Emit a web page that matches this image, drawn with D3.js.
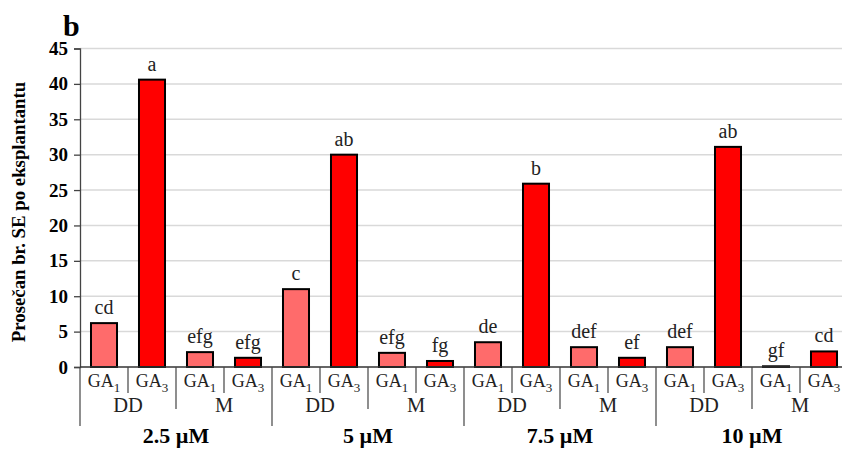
<!DOCTYPE html>
<html><head><meta charset="utf-8">
<script src="https://cdn.jsdelivr.net/npm/d3@7/dist/d3.min.js"></script>
<style>body{margin:0;background:#fff;} svg{display:block;}</style>
</head><body>
<script>
const concentrations = ["2.5 µM", "5 µM", "7.5 µM", "10 µM"];
const media = ["DD", "M"];
const hormones = ["GA1", "GA3"];
// values in order: conc > medium > hormone
const values = [6.2, 40.6, 2.1, 1.3, 11.0, 30.0, 2.0, 0.85, 3.5, 25.9, 2.8, 1.3, 2.8, 31.1, 0.1, 2.2];
const letters = ["cd", "a", "efg", "efg", "c", "ab", "efg", "fg", "de", "b", "def", "ef", "def", "ab", "gf", "cd"];
const yTicks = [0, 5, 10, 15, 20, 25, 30, 35, 40, 45];
const yTitle = "Prosečan br. SE po eksplantantu";
const panelLabel = "b";

const data = [];
concentrations.forEach((c, ci) => media.forEach((m, mi) => hormones.forEach((h, hi) => {
  const i = data.length;
  data.push({i, c, m, h, v: values[i], l: letters[i]});
})));

const W = 842, H = 452;
const x0 = 80, step = 48, y0 = 367, yTop = 48.5;
const svg = d3.select("body").append("svg").attr("width", W).attr("height", H);
const serif = "'Liberation Serif', 'Times New Roman', serif";

const x = d3.scaleBand().domain(data.map(d => d.i)).range([x0, x0 + step * data.length])
  .paddingInner(0.458).paddingOuter(0.229);
const y = d3.scaleLinear().domain([0, 45]).range([y0, yTop]);

// gridlines
svg.append("g").selectAll("line").data(yTicks.filter(t => t > 0)).join("line")
  .attr("x1", x0).attr("x2", W).attr("y1", d => y(d)).attr("y2", d => y(d))
  .attr("stroke", "#d9d9d9").attr("stroke-width", 1.5);

// y axis
const yAxis = svg.append("g").attr("transform", `translate(${x0},0)`)
  .call(d3.axisLeft(y).tickValues(yTicks).tickSize(6).tickPadding(6));
yAxis.select(".domain").attr("stroke", "#444").attr("stroke-width", 1.3);
yAxis.selectAll(".tick line").attr("stroke", "#444").attr("stroke-width", 1.3);
yAxis.selectAll("text").attr("font-family", serif).attr("font-weight", "bold")
  .attr("font-size", 19).attr("fill", "#000");

// bars
svg.append("g").selectAll("rect").data(data).join("rect")
  .attr("x", d => x(d.i)).attr("width", x.bandwidth())
  .attr("y", d => y(d.v)).attr("height", d => y0 - y(d.v))
  .attr("fill", d => d.h === "GA1" ? "#ff6b6b" : "#ff0000")
  .attr("stroke", "#000").attr("stroke-width", 2);

// letters
svg.append("g").selectAll("text").data(data).join("text")
  .attr("x", d => x(d.i) + x.bandwidth() / 2).attr("y", d => y(d.v) - 9)
  .attr("text-anchor", "middle").attr("font-family", serif).attr("font-size", 20)
  .attr("fill", "#222").text(d => d.l);

// baseline
svg.append("line").attr("x1", x0).attr("x2", W).attr("y1", y0).attr("y2", y0)
  .attr("stroke", "#333").attr("stroke-width", 1.3);

// multi-level x axis
const ax = svg.append("g");
const sep = (xx, y2) => ax.append("line").attr("x1", xx).attr("x2", xx).attr("y1", y0).attr("y2", y2)
  .attr("stroke", "#444").attr("stroke-width", 1.2);
data.forEach(d => {
  const left = x0 + d.i * step;
  if (d.i % 4 === 0) sep(left, 426);
  else if (d.i % 2 === 0) sep(left, 409);
  else sep(left, 393);
  const t = ax.append("text").attr("x", left + step / 2).attr("y", 387)
    .attr("text-anchor", "middle").attr("font-family", serif).attr("font-size", 18).attr("fill", "#222");
  t.append("tspan").text("GA");
  t.append("tspan").attr("dy", 5).attr("font-size", 13).text(d.h.slice(2));
});
concentrations.forEach((c, ci) => {
  media.forEach((m, mi) => {
    ax.append("text").attr("x", x0 + (ci * 4 + mi * 2 + 1) * step).attr("y", 412)
      .attr("text-anchor", "middle").attr("font-family", serif).attr("font-size", 20.5).attr("fill", "#222").text(m);
  });
  ax.append("text").attr("x", x0 + (ci * 4 + 2) * step).attr("y", 443)
    .attr("text-anchor", "middle").attr("font-family", serif).attr("font-weight", "bold")
    .attr("font-size", 22).attr("fill", "#000").text(c);
});

// y title
svg.append("text").attr("transform", `translate(25,212) rotate(-90)`)
  .attr("text-anchor", "middle").attr("font-family", serif).attr("font-weight", "bold")
  .attr("font-size", 18.8).attr("fill", "#000").text(yTitle);

// panel label
svg.append("text").attr("x", 63).attr("y", 36).attr("font-family", serif).attr("font-weight", "bold")
  .attr("font-size", 30).attr("fill", "#000").text(panelLabel);
</script>
</body></html>
